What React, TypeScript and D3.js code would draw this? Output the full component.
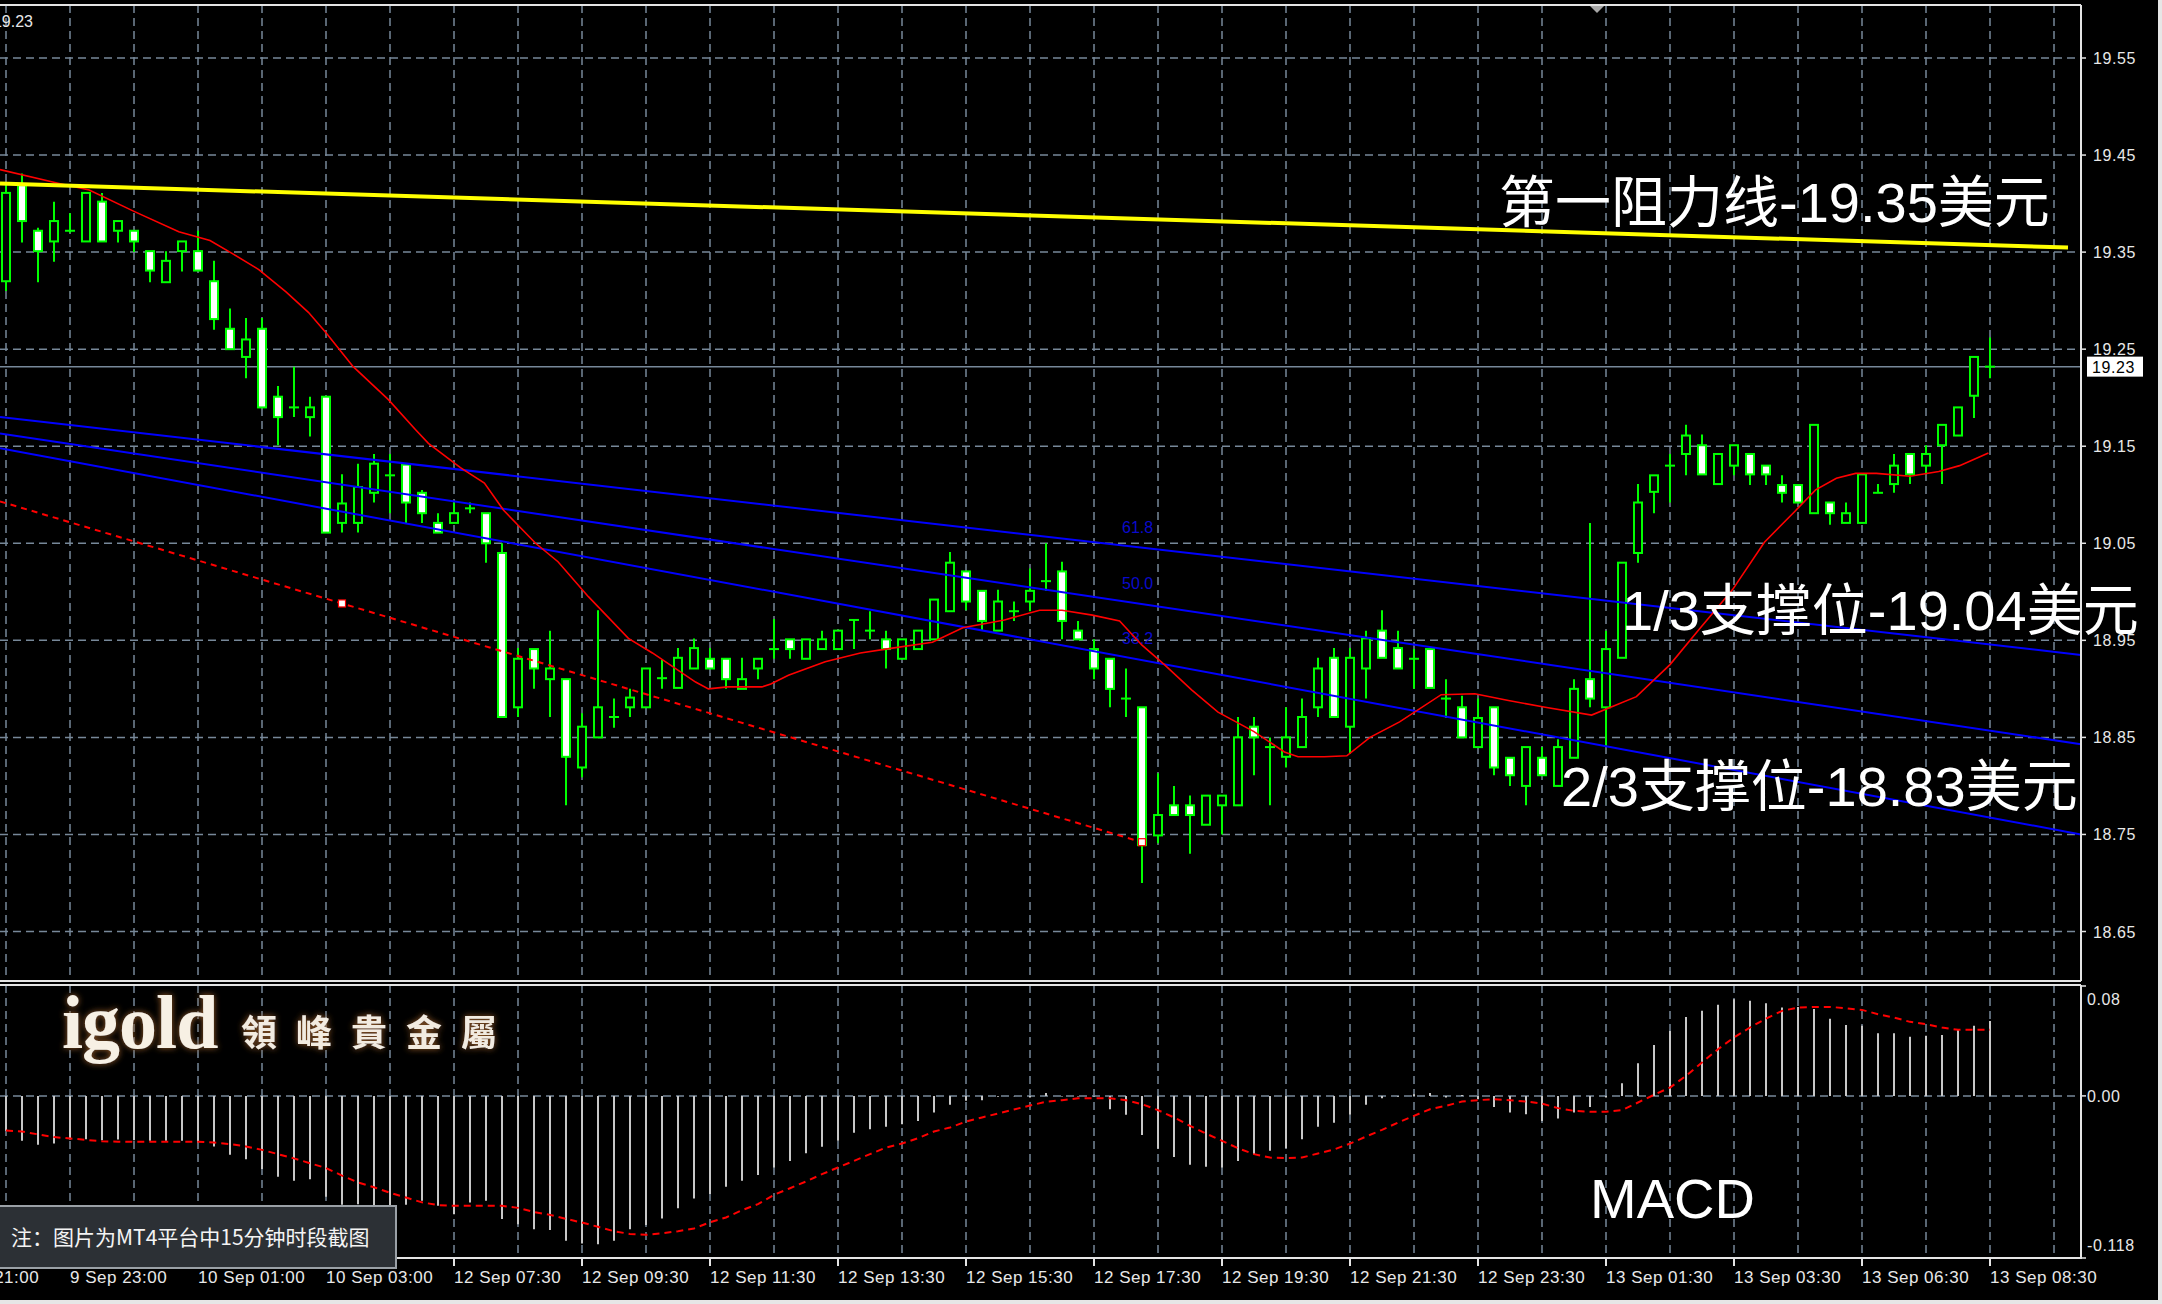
import React from 'react';
import * as d3 from 'd3';

const WIDTH = 2162;
const HEIGHT = 1304;

// 15-minute silver bars, oldest first
const opens = [19.320, 19.419, 19.372, 19.361, 19.372, 19.361, 19.402, 19.372, 19.372, 19.351,
  19.319, 19.351, 19.351, 19.320, 19.271, 19.242, 19.271, 19.201, 19.190, 19.180,
  19.201, 19.071, 19.071, 19.102, 19.120, 19.131, 19.102, 19.071, 19.071, 19.086,
  19.081, 19.040, 18.881, 18.941, 18.910, 18.910, 18.819, 18.850, 18.871, 18.881,
  18.881, 18.911, 18.901, 18.921, 18.931, 18.931, 18.900, 18.921, 18.941, 18.951,
  18.931, 18.941, 18.941, 18.971, 18.960, 18.951, 18.931, 18.941, 18.951, 18.980,
  19.021, 19.001, 18.960, 18.980, 18.990, 19.011, 19.021, 18.960, 18.941, 18.931,
  18.890, 18.881, 18.749, 18.780, 18.780, 18.760, 18.780, 18.780, 18.861, 18.840,
  18.830, 18.840, 18.881, 18.932, 18.861, 18.921, 18.960, 18.942, 18.931, 18.941,
  18.890, 18.881, 18.840, 18.881, 18.829, 18.800, 18.829, 18.800, 18.829, 18.910,
  18.881, 18.932, 19.040, 19.103, 19.130, 19.142, 19.151, 19.111, 19.130, 19.142,
  19.130, 19.110, 19.110, 19.081, 19.092, 19.071, 19.071, 19.102, 19.111, 19.142,
  19.130, 19.151, 19.161, 19.202, 19.232];
const highs = [19.420, 19.431, 19.375, 19.402, 19.390, 19.411, 19.411, 19.382, 19.372, 19.351,
  19.351, 19.361, 19.372, 19.341, 19.292, 19.282, 19.282, 19.212, 19.232, 19.201,
  19.201, 19.121, 19.132, 19.142, 19.142, 19.131, 19.105, 19.081, 19.092, 19.092,
  19.081, 19.050, 18.942, 18.941, 18.960, 18.910, 18.875, 18.981, 18.890, 18.900,
  18.921, 18.930, 18.942, 18.952, 18.942, 18.931, 18.932, 18.931, 18.972, 18.951,
  18.951, 18.960, 18.960, 18.971, 18.980, 18.960, 18.951, 18.960, 18.992, 19.041,
  19.021, 19.001, 19.002, 18.990, 19.024, 19.050, 19.031, 18.970, 18.951, 18.931,
  18.921, 18.881, 18.813, 18.800, 18.790, 18.790, 18.790, 18.871, 18.871, 18.850,
  18.881, 18.890, 18.932, 18.942, 18.942, 18.960, 18.981, 18.960, 18.941, 18.941,
  18.910, 18.893, 18.890, 18.881, 18.829, 18.840, 18.840, 18.848, 18.910, 19.071,
  18.960, 19.030, 19.111, 19.120, 19.142, 19.172, 19.162, 19.142, 19.151, 19.142,
  19.130, 19.120, 19.110, 19.172, 19.092, 19.092, 19.121, 19.111, 19.142, 19.142,
  19.151, 19.172, 19.190, 19.242, 19.262];
const lows = [19.310, 19.360, 19.319, 19.340, 19.370, 19.361, 19.361, 19.360, 19.350, 19.319,
  19.319, 19.330, 19.331, 19.270, 19.250, 19.220, 19.190, 19.151, 19.180, 19.160,
  19.061, 19.061, 19.061, 19.092, 19.081, 19.071, 19.071, 19.061, 19.071, 19.081,
  19.030, 18.871, 18.871, 18.900, 18.871, 18.780, 18.809, 18.850, 18.860, 18.871,
  18.881, 18.900, 18.901, 18.921, 18.921, 18.900, 18.900, 18.910, 18.931, 18.931,
  18.931, 18.941, 18.941, 18.941, 18.951, 18.921, 18.931, 18.941, 18.951, 18.980,
  18.981, 18.960, 18.960, 18.970, 18.980, 19.001, 18.951, 18.951, 18.910, 18.881,
  18.871, 18.700, 18.741, 18.770, 18.730, 18.760, 18.750, 18.780, 18.811, 18.780,
  18.819, 18.840, 18.871, 18.871, 18.834, 18.890, 18.932, 18.921, 18.900, 18.901,
  18.870, 18.850, 18.840, 18.811, 18.800, 18.780, 18.811, 18.800, 18.829, 18.881,
  18.840, 18.932, 19.030, 19.081, 19.092, 19.120, 19.121, 19.111, 19.120, 19.110,
  19.110, 19.092, 19.092, 19.081, 19.069, 19.071, 19.071, 19.102, 19.102, 19.111,
  19.121, 19.111, 19.161, 19.179, 19.220];
const closes = [19.411, 19.382, 19.351, 19.382, 19.372, 19.411, 19.361, 19.382, 19.361, 19.331,
  19.341, 19.361, 19.331, 19.281, 19.250, 19.260, 19.190, 19.180, 19.190, 19.190,
  19.061, 19.091, 19.108, 19.132, 19.120, 19.092, 19.081, 19.061, 19.081, 19.086,
  19.050, 18.871, 18.931, 18.921, 18.921, 18.830, 18.861, 18.881, 18.871, 18.891,
  18.921, 18.911, 18.932, 18.942, 18.921, 18.910, 18.910, 18.931, 18.941, 18.941,
  18.951, 18.951, 18.960, 18.971, 18.960, 18.941, 18.951, 18.960, 18.992, 19.030,
  18.990, 18.970, 18.990, 18.980, 19.001, 19.011, 18.970, 18.951, 18.921, 18.900,
  18.890, 18.739, 18.770, 18.770, 18.770, 18.790, 18.790, 18.850, 18.850, 18.840,
  18.850, 18.871, 18.921, 18.871, 18.932, 18.952, 18.932, 18.921, 18.931, 18.901,
  18.890, 18.850, 18.870, 18.819, 18.811, 18.840, 18.811, 18.840, 18.900, 18.890,
  18.941, 19.030, 19.092, 19.120, 19.130, 19.161, 19.121, 19.142, 19.151, 19.121,
  19.121, 19.102, 19.092, 19.172, 19.081, 19.081, 19.121, 19.102, 19.130, 19.121,
  19.142, 19.172, 19.190, 19.242, 19.232];

// Moving average vertices (bar position, price)
const maBars = [-0.375, 3.25, 5.2, 8, 10.8, 12.75, 14.1, 15.8, 17.5, 18.9, 20, 21.7, 23.9, 25.6, 26.4,
  28.4, 29.9, 31.1, 33.1, 34.5, 36.4, 38.9, 40.4, 43.1, 43.9, 45.1, 47.25, 47.8, 48.9, 51.2,
  53.4, 55.4, 57.9, 59.8, 62.4, 64.6, 66, 67.9, 69.6, 71, 72.4, 74.1, 75.75, 78, 79.9,
  80.75, 82.4, 83.8, 85.25, 87.1, 89.7, 91.8, 93.9, 96.2, 99.1, 101.9, 104, 105.8, 107.9,
  109.9, 111.75, 113.1, 114.4, 115.6, 116.9, 119, 120.8, 122.1, 123.9];
const maValues = [19.435, 19.421, 19.414, 19.392, 19.371, 19.362, 19.349, 19.332, 19.309, 19.288,
  19.267, 19.232, 19.198, 19.167, 19.153, 19.128, 19.112, 19.084, 19.050, 19.031,
  18.995, 18.952, 18.937, 18.907, 18.900, 18.902, 18.902, 18.905, 18.914, 18.928,
  18.937, 18.942, 18.948, 18.963, 18.971, 18.981, 18.981, 18.976, 18.970, 18.945,
  18.925, 18.899, 18.876, 18.856, 18.835, 18.830, 18.830, 18.831, 18.850, 18.866,
  18.894, 18.895, 18.888, 18.881, 18.873, 18.892, 18.925, 18.961, 19.002, 19.051,
  19.082, 19.105, 19.117, 19.122, 19.122, 19.119, 19.124, 19.130, 19.143];

// MACD main (histogram) and signal, one value per bar
const macdMain = [-0.0254, -0.0327, -0.0356, -0.0347, -0.0318, -0.0315, -0.0322, -0.0318, -0.0322, -0.0327,
  -0.0327, -0.0327, -0.0339, -0.0368, -0.0429, -0.0461, -0.0533, -0.0589, -0.0618, -0.0606,
  -0.0735, -0.0793, -0.0788, -0.0795, -0.0808, -0.0793, -0.0764, -0.0800, -0.0861, -0.0776,
  -0.0764, -0.0897, -0.0934, -0.0970, -0.0977, -0.1055, -0.1074, -0.1079, -0.1055, -0.0970,
  -0.0939, -0.0893, -0.0817, -0.0747,
  -0.0715, -0.0662, -0.0618, -0.0575, -0.0521, -0.0473, -0.0417, -0.0371, -0.0327, -0.0269,
  -0.0242, -0.0225, -0.0206, -0.0182, -0.0121, -0.0065, -0.0036, -0.0031, -0.0007, -0.0002,
  -0.0012, 0.0022, -0.0005, -0.0005, -0.0005, -0.0097, -0.0138, -0.0284, -0.0385, -0.0444,
  -0.0502, -0.0516, -0.0521, -0.0473, -0.0424, -0.0400, -0.0381, -0.0315, -0.0225, -0.0196,
  -0.0138, -0.0065, -0.0017, -0.0007,
  0.0012, 0.0022, -0.0012, 0.0007, -0.0024, -0.0080, -0.0121, -0.0133, -0.0182, -0.0165,
  -0.0121, -0.0080, -0.0012, 0.0092, 0.0238, 0.0371, 0.0473, 0.0575, 0.0619, 0.0663,
  0.0704, 0.0692, 0.0675, 0.0643, 0.0648, 0.0633, 0.0561, 0.0517, 0.0510, 0.0456,
  0.0456, 0.0430, 0.0437, 0.0444, 0.0481, 0.0510, 0.0546];
const macdSignal = [-0.0252, -0.0259, -0.0280, -0.0300, -0.0310, -0.0320, -0.0330, -0.0333, -0.0334, -0.0334,
  -0.0334, -0.0334, -0.0334, -0.0340, -0.0351, -0.0368, -0.0393, -0.0424, -0.0455, -0.0490,
  -0.0525, -0.0580, -0.0630, -0.0665, -0.0705, -0.0740, -0.0775, -0.0795, -0.0800, -0.0800,
  -0.0800, -0.0800, -0.0815, -0.0845, -0.0866, -0.0895, -0.0922, -0.0953, -0.0985, -0.1005,
  -0.1011, -0.1000, -0.0985, -0.0965,
  -0.0920, -0.0885, -0.0832, -0.0788, -0.0720, -0.0672, -0.0623, -0.0570, -0.0521, -0.0473,
  -0.0424, -0.0376, -0.0347, -0.0308, -0.0259, -0.0230, -0.0187, -0.0157, -0.0128, -0.0099,
  -0.0070, -0.0043, -0.0031, -0.0017, -0.0017, -0.0017, -0.0031, -0.0060, -0.0104, -0.0157,
  -0.0218, -0.0274, -0.0327, -0.0381, -0.0424, -0.0449, -0.0453, -0.0449, -0.0419, -0.0390,
  -0.0347, -0.0296, -0.0247, -0.0194,
  -0.0145, -0.0097, -0.0072, -0.0041, -0.0031, -0.0024, -0.0031, -0.0041, -0.0056, -0.0089,
  -0.0109, -0.0116, -0.0116, -0.0104, -0.0048, 0.0008, 0.0061, 0.0146, 0.0243, 0.0340,
  0.0425, 0.0498, 0.0563, 0.0619, 0.0643, 0.0648, 0.0648, 0.0638, 0.0626, 0.0595,
  0.0570, 0.0539, 0.0522, 0.0498, 0.0481, 0.0481, 0.0481];

const priceTicks = [19.55, 19.45, 19.35, 19.25, 19.15, 19.05, 18.95, 18.85, 18.75, 18.65];
const macdTicks = [0.08, 0, -0.118];
const macdTickLabels = ['0.08', '0.00', '-0.118'];
const timeTickBars = [-4, 4, 12, 20, 28, 36, 44, 52, 60, 68, 76, 84, 92, 100, 108, 116, 124];
const timeTickLabels = ['9 Sep 21:00', '9 Sep 23:00', '10 Sep 01:00', '10 Sep 03:00', '12 Sep 07:30',
  '12 Sep 09:30', '12 Sep 11:30', '12 Sep 13:30', '12 Sep 15:30', '12 Sep 17:30', '12 Sep 19:30',
  '12 Sep 21:30', '12 Sep 23:30', '13 Sep 01:30', '13 Sep 03:30', '13 Sep 06:30', '13 Sep 08:30'];

// Drawn objects: resistance line, Fibonacci channel, dashed trend line
const resistanceLine = [{ bar: -0.375, price: 19.4207 }, { bar: 128.875, price: 19.3547 }];
const fibLevels = ['61.8', '50.0', '38.2'];
const fibStarts = [{ bar: -0.375, price: 19.180 }, { bar: -0.375, price: 19.163 }, { bar: -0.375, price: 19.148 }];
const fibEnds = [{ bar: 129.69, price: 18.935 }, { bar: 129.69, price: 18.843 }, { bar: 129.69, price: 18.750 }];
const trendAnchors = [{ bar: 21, price: 18.988 }, { bar: 71, price: 18.742 }];

const LIME = '#00ff00';
const GRID = '#778899';
const FRAME = '#e4e4e4';
const LATIN = "'Liberation Sans', Arial, sans-serif";
const CJK = "'Liberation Sans', 'Noto Sans CJK SC', sans-serif";

export default function App() {
  const lastBar = opens.length - 1;
  const x = d3.scaleLinear().domain([0, lastBar]).range([6, 6 + 16 * lastBar]);
  const y = d3.scaleLinear().domain([18.65, 19.55]).range([931.5, 58]);
  const ym = d3.scaleLinear().domain([-0.118, 0.08]).range([1258, 986]);

  const plotRight = 2081;
  const mainTop = 5;
  const mainBottom = 981;
  const macdTop = 985;
  const macdBottom = 1258;

  const gridBars = d3.range(0, 130, 4).filter((b) => x(b) < plotRight);

  const maLine = d3.line<number>()
    .x((_, i) => x(maBars[i]))
    .y((v) => y(v))(maValues) || '';

  const signalLine = d3.line<number>()
    .x((_, i) => x(i))
    .y((v) => ym(v))(macdSignal) || '';

  const trendPrice = d3.scaleLinear()
    .domain([trendAnchors[0].bar, trendAnchors[1].bar])
    .range([trendAnchors[0].price, trendAnchors[1].price]);
  const trendStartBar = -0.375;

  const lastClose = closes[lastBar];
  const fibLabelBar = 69.75;

  return (
    <div style={{ position: 'absolute', left: 0, top: 0, width: WIDTH, height: HEIGHT, background: '#000' }}>
      <svg width={WIDTH} height={HEIGHT} style={{ display: 'block' }}>
        <defs>
          <clipPath id="mainClip">
            <rect x={0} y={mainTop + 1} width={plotRight} height={mainBottom - mainTop - 2} />
          </clipPath>
          <clipPath id="macdClip">
            <rect x={0} y={macdTop + 1} width={plotRight} height={macdBottom - macdTop - 2} />
          </clipPath>
          <filter id="logoGlow" x="-10%" y="-30%" width="120%" height="160%">
            <feGaussianBlur in="SourceAlpha" stdDeviation="3" result="blur" />
            <feFlood floodColor="#a0612a" floodOpacity="0.95" />
            <feComposite in2="blur" operator="in" result="halo" />
            <feMerge>
              <feMergeNode in="halo" />
              <feMergeNode in="SourceGraphic" />
            </feMerge>
          </filter>
        </defs>

        <rect x={0} y={0} width={WIDTH} height={HEIGHT} fill="#000" />

        {/* main price pane */}
        <g clipPath="url(#mainClip)">
          {priceTicks.map((p) => (
            <line key={'hg' + p} x1={0} x2={plotRight} y1={y(p)} y2={y(p)}
              stroke={GRID} strokeWidth={1.5} strokeDasharray="8 5" />
          ))}
          {gridBars.map((b) => (
            <line key={'vg' + b} x1={x(b)} x2={x(b)} y1={mainTop} y2={mainBottom}
              stroke={GRID} strokeWidth={1.5} strokeDasharray="8 5" />
          ))}
          <line x1={0} x2={plotRight} y1={y(lastClose)} y2={y(lastClose)} stroke={GRID} strokeWidth={1.5} />

          {opens.map((o, i) => {
            const c = closes[i];
            const cx = x(i);
            const top = y(Math.max(o, c));
            const bot = y(Math.min(o, c));
            const doji = Math.abs(o - c) < 0.0015;
            return (
              <g key={'c' + i}>
                <line x1={cx} x2={cx} y1={y(highs[i])} y2={y(lows[i])} stroke={LIME} strokeWidth={2} />
                {doji ? (
                  <line x1={cx - 5} x2={cx + 5} y1={y(o)} y2={y(o)} stroke={LIME} strokeWidth={2} />
                ) : (
                  <rect x={cx - 4} y={top} width={8} height={Math.max(bot - top, 1)}
                    fill={c < o ? '#ffffff' : '#000000'} stroke={LIME} strokeWidth={2} />
                )}
              </g>
            );
          })}

          {fibLevels.map((lv, k) => {
            const f = d3.scaleLinear().domain([fibStarts[k].bar, fibEnds[k].bar]).range([fibStarts[k].price, fibEnds[k].price]);
            return (
              <g key={'fib' + lv}>
                <line x1={x(fibStarts[k].bar)} y1={y(fibStarts[k].price)} x2={x(fibEnds[k].bar)} y2={y(fibEnds[k].price)}
                  stroke="#0000ff" strokeWidth={2} />
                <text x={x(fibLabelBar)} y={y(f(fibLabelBar)) - 12} fill="#0a0acc"
                  fontFamily={LATIN} fontSize={16}>{lv}</text>
              </g>
            );
          })}

          <path d={maLine} fill="none" stroke="#ff0000" strokeWidth={1.6} />

          <line x1={x(resistanceLine[0].bar)} y1={y(resistanceLine[0].price)}
            x2={x(resistanceLine[1].bar)} y2={y(resistanceLine[1].price)}
            stroke="#ffff00" strokeWidth={4} />

          <line x1={x(trendStartBar)} y1={y(trendPrice(trendStartBar))}
            x2={x(trendAnchors[1].bar)} y2={y(trendAnchors[1].price)}
            stroke="#ff0000" strokeWidth={2} strokeDasharray="6 5" />
          {trendAnchors.map((a) => (
            <rect key={'ta' + a.bar} x={x(a.bar) - 3.5} y={y(a.price) - 3.5} width={7} height={7}
              fill="#ffffff" stroke="#ff0000" strokeWidth={1.2} />
          ))}
        </g>

        {/* price annotations */}
        <g fill="#ffffff" fontFamily={CJK} fontSize={56}>
          <text x={1499} y={222}>第一阻力线-19.35美元</text>
          <text x={1622} y={630}>1/3支撑位-19.04美元</text>
          <text x={1561} y={806}>2/3支撑位-18.83美元</text>
        </g>

        {/* MACD pane */}
        <g clipPath="url(#macdClip)">
          {gridBars.map((b) => (
            <line key={'mg' + b} x1={x(b)} x2={x(b)} y1={macdTop} y2={macdBottom}
              stroke={GRID} strokeWidth={1.5} strokeDasharray="8 5" />
          ))}
          <line x1={0} x2={plotRight} y1={ym(0)} y2={ym(0)} stroke={GRID} strokeWidth={1.5} strokeDasharray="8 5" />
          {macdMain.map((v, i) => (
            <line key={'h' + i} x1={x(i)} x2={x(i)} y1={ym(0)} y2={ym(v)} stroke="#c8c8c8" strokeWidth={2} />
          ))}
          <path d={signalLine} fill="none" stroke="#ff0000" strokeWidth={2} strokeDasharray="7 5" />
        </g>

        <text x={1590} y={1218} fill="#ffffff" fontFamily={LATIN} fontSize={56}>MACD</text>

        {/* logo */}
        <g filter="url(#logoGlow)">
          <text x={62} y={1048} fill="#f7f0e4" fontFamily="'Liberation Serif', 'DejaVu Serif', serif"
            fontWeight={700} fontSize={76} letterSpacing={-1}>igold</text>
          <text x={241} y={1046} fill="#f2ebe0" fontFamily="'Noto Sans CJK TC', sans-serif"
            fontWeight={700} fontSize={36} letterSpacing={19}>領峰貴金屬</text>
        </g>

        {/* frames */}
        <g stroke={FRAME} strokeWidth={2} fill="none">
          <line x1={0} x2={plotRight} y1={mainTop} y2={mainTop} />
          <line x1={plotRight} x2={plotRight} y1={mainTop} y2={mainBottom} />
          <line x1={0} x2={plotRight} y1={mainBottom} y2={mainBottom} />
          <line x1={0} x2={plotRight} y1={macdTop} y2={macdTop} />
          <line x1={plotRight} x2={plotRight} y1={macdTop} y2={macdBottom} />
          <line x1={0} x2={plotRight + 1} y1={macdBottom} y2={macdBottom} />
        </g>

        {/* chart shift marker */}
        <polygon points="1590,6 1604,6 1597,13" fill="#a8a8a8" />

        {/* price axis */}
        {priceTicks.map((p) => (
          <g key={'pl' + p}>
            <line x1={plotRight} x2={plotRight + 5} y1={y(p)} y2={y(p)} stroke={FRAME} strokeWidth={1.5} />
            <text x={2093} y={y(p) + 6} fill="#e8e8e8" fontFamily={LATIN} fontSize={16} letterSpacing={0.6}>
              {p.toFixed(2)}
            </text>
          </g>
        ))}
        <rect x={2087} y={y(lastClose) - 10} width={56} height={20} fill="#ffffff" />
        <text x={2092} y={y(lastClose) + 6} fill="#000" fontFamily={LATIN} fontSize={16} letterSpacing={0.6}>
          {lastClose.toFixed(2)}
        </text>
        <text x={33} y={27} fill="#e8e8e8" fontFamily={LATIN} fontSize={16} textAnchor="end">
          {lastClose.toFixed(2)}
        </text>

        {/* MACD axis */}
        {macdTicks.map((v, k) => {
          const ty = Math.min(Math.max(ym(v) + 6, macdTop + 20), macdBottom - 7);
          return (
            <g key={'ml' + k}>
              <line x1={plotRight} x2={plotRight + 5} y1={ym(v)} y2={ym(v)} stroke={FRAME} strokeWidth={1.5} />
              <text x={2087} y={ty} fill="#e8e8e8" fontFamily={LATIN} fontSize={16} letterSpacing={0.6}>
                {macdTickLabels[k]}
              </text>
            </g>
          );
        })}

        {/* time axis */}
        {timeTickBars.map((b, k) => (
          <g key={'t' + b}>
            <line x1={x(b)} x2={x(b)} y1={macdBottom} y2={macdBottom + 8} stroke={FRAME} strokeWidth={2} />
            <text x={x(b)} y={1283} fill="#e8e8e8" fontFamily={LATIN} fontSize={17} letterSpacing={0.5}>
              {timeTickLabels[k]}
            </text>
          </g>
        ))}

        {/* note box */}
        <rect x={-2} y={1206} width={398} height={62} fill="#2c3035" stroke="#9aa0a6" strokeWidth={2} />
        <text x={11} y={1245} fill="#f4f4f4" fontFamily="'Noto Sans CJK SC', sans-serif" fontSize={21}>
          注：图片为MT4平台中15分钟时段截图
        </text>

        {/* window edges */}
        <rect x={2158} y={0} width={4} height={HEIGHT} fill="#e6e6e6" />
        <rect x={0} y={1300} width={WIDTH} height={4} fill="#e6e6e6" />
      </svg>
    </div>
  );
}
